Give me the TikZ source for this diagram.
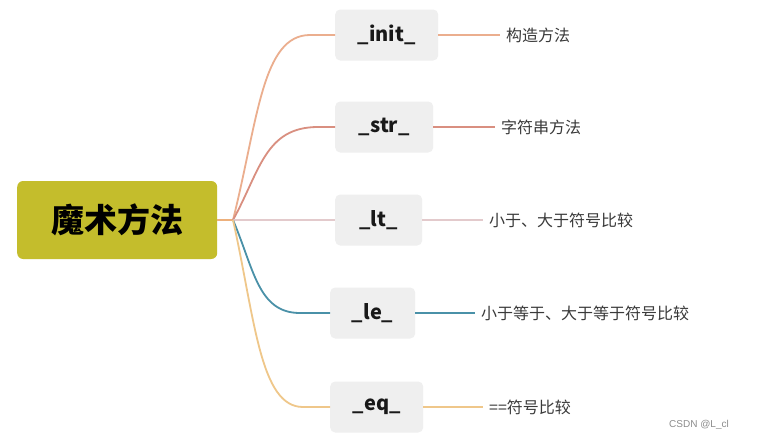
\documentclass[tikz,border=0pt]{standalone}
\usepackage{fontspec}
\newfontfamily\cjk{Noto Sans CJK SC}
\definecolor{rootfill}{HTML}{C4BD2C}
\definecolor{boxfill}{HTML}{EFEFEF}
\definecolor{cOrange}{HTML}{EDB07C}
\definecolor{cInit}{HTML}{EBAE8E}
\definecolor{cStr}{HTML}{D98F80}
\definecolor{cLt}{HTML}{E3CACC}
\definecolor{cLe}{HTML}{4A91A8}
\definecolor{cEq}{HTML}{EFC78A}
\definecolor{labtext}{HTML}{3A3A3A}
\begin{document}
\begin{tikzpicture}[x=1pt,y=-1pt,
  rootbox/.style={rectangle, rounded corners=6pt, fill=rootfill, minimum width=200pt, minimum height=78pt, anchor=west,
    font=\cjk\bfseries\fontsize{33}{33}\selectfont, text=black},
  childbox/.style={rectangle, rounded corners=5pt, fill=boxfill, minimum height=51pt, anchor=west, inner sep=0pt,
    font=\cjk\bfseries\fontsize{20}{20}\selectfont, text=black!90},
  lab/.style={anchor=west, inner sep=0pt, inner xsep=6pt, font=\cjk\fontsize{16}{16}\selectfont, text=labtext},
  conn/.style={line width=1.8pt}
]
\useasboundingbox (0,0) rectangle (768,440);
\fill[white] (0,0) rectangle (768,440);

\node[rootbox] (root) at (17,220) {魔术方法};
\coordinate (b) at (233,220);

\node[childbox, minimum width=103pt] (init) at (335,35) {\_init\_};
\node[childbox, minimum width=98pt] (str) at (335,127) {\_str\_};
\node[childbox, minimum width=87pt] (lt) at (335,220) {\_lt\_};
\node[childbox, minimum width=85pt] (le) at (330,313) {\_le\_};
\node[childbox, minimum width=93pt] (eq) at (330,407) {\_eq\_};

\node[lab] (l1) at (500,35) {构造方法};
\node[lab] (l2) at (495,127) {字符串方法};
\node[lab] (l3) at (483,220) {小于、大于符号比较};
\node[lab] (l4) at (475,313) {小于等于、大于等于符号比较};
\node[lab] (l5) at (483,407) {==符号比较};

\draw[conn, cOrange] (root.east) -- (b);
\draw[conn, cInit] (b) .. controls (258,120) and (262,35) .. (310,35) -- (init.west);
\draw[conn, cStr] (b) .. controls (260,171) and (265,127) .. (318,127) -- (str.west);
\draw[conn, cLt] (b) -- (lt.west);
\draw[conn, cLe] (b) .. controls (254,269) and (258,313) .. (300,313) -- (le.west);
\draw[conn, cEq] (b) .. controls (255,319) and (260,407) .. (303,407) -- (eq.west);

\draw[conn, cInit] (init.east) -- (l1.west);
\draw[conn, cStr] (str.east) -- (l2.west);
\draw[conn, cLt] (lt.east) -- (l3.west);
\draw[conn, cLe] (le.east) -- (l4.west);
\draw[conn, cEq] (eq.east) -- (l5.west);

\node[anchor=east, inner sep=0pt, text=black!45, font=\fontspec{Liberation Sans}\fontsize{10}{10}\selectfont] (wm) at (729,425) {CSDN @L\_cl};
\end{tikzpicture}
\end{document}
